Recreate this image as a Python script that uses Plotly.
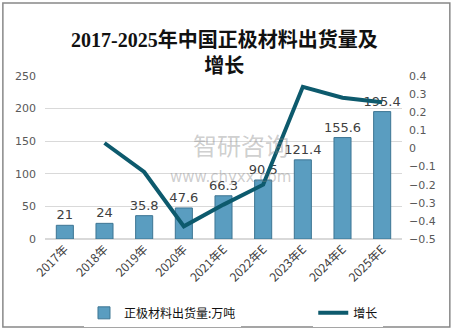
import plotly.graph_objects as go

# Cathode material shipments (10k tonnes) and year-on-year growth
years = ["2017年", "2018年", "2019年", "2020年", "2021年E", "2022年E", "2023年E", "2024年E", "2025年E"]
shipments = [21, 24, 35.8, 47.6, 66.3, 90.5, 121.4, 155.6, 195.4]
growth = [None, 0.03, -0.13, -0.43, -0.31, -0.2, 0.34, 0.28, 0.255]
left_ticks = [0, 50, 100, 150, 200, 250]
right_ticks = [-0.5, -0.4, -0.3, -0.2, -0.1, 0, 0.1, 0.2, 0.3, 0.4]

fig = go.Figure()

fig.add_trace(go.Bar(
    x=years, y=shipments, name="正极材料出货量:万吨", legend="legend",
    marker=dict(color="#5a9dc0", line=dict(color="#3d7593", width=1)),
    width=0.43,
    text=[f"{v:g}" for v in shipments], textposition="outside",
    constraintext="none",
    textfont=dict(size=13, color="#404040", family="DejaVu Sans"),
    cliponaxis=False,
))

fig.add_trace(go.Scatter(
    x=years, y=growth, name="增长", yaxis="y2", mode="lines", legend="legend2",
    line=dict(color="#0d5a6d", width=4), connectgaps=True,
))

tick_font = dict(size=11, color="#595959", family="DejaVu Sans")
legend_font = dict(size=12, color="#111111", family="Noto Sans CJK SC")

fig.update_layout(
    width=454, height=330,
    margin=dict(l=45, r=52, t=76, b=91, autoexpand=False),
    paper_bgcolor="white", plot_bgcolor="white",
    xaxis=dict(tickangle=-45, tickfont=dict(size=12, color="#404040", family="Noto Sans CJK SC"),
               showline=False, ticks=""),
    yaxis=dict(range=[0, 250], tickvals=left_ticks, showgrid=True, gridcolor="#d9d9d9",
               gridwidth=1, zeroline=True, zerolinecolor="#d9d9d9", tickfont=tick_font,
               ticks="", ticklabelstandoff=8),
    yaxis2=dict(range=[-0.5, 0.4], tickvals=right_ticks, overlaying="y", side="right",
                showgrid=False, zeroline=False, tickfont=tick_font, ticks="",
                ticklabelstandoff=6),
    showlegend=True,
    legend=dict(orientation="h", xref="container", yref="container",
                x=0.185, y=0.052, xanchor="left", yanchor="middle",
                font=legend_font, itemwidth=30),
    legend2=dict(orientation="h", xref="container", yref="container",
                 x=0.69, y=0.052, xanchor="left", yanchor="middle",
                 font=legend_font, itemwidth=30),
    bargap=0.57,
    shapes=[dict(type="rect", xref="paper", yref="paper", x0=-0.118, x1=1.134,
                 y0=-0.54, y1=1.448, line=dict(color="#888888", width=1.5))],
    annotations=[
        dict(text="<b>2017-2025年中国正极材料出货量及<br>增长</b>", xref="paper", yref="paper",
             x=0.504, y=1.147, xanchor="center", yanchor="middle", showarrow=False,
             font=dict(size=20, color="#111111", family="Liberation Serif, Noto Sans CJK SC")),
        dict(text="智研咨询", xref="paper", yref="paper", x=0.55, y=0.58,
             showarrow=False, font=dict(size=24, color="rgba(130,130,130,0.4)",
                                        family="Noto Sans CJK SC")),
        dict(text="www.chyxx.com", xref="paper", yref="paper", x=0.52, y=0.38,
             showarrow=False, font=dict(size=15, color="rgba(130,130,130,0.4)",
                                        family="DejaVu Sans")),
    ],
)

fig.write_html("out.html")
